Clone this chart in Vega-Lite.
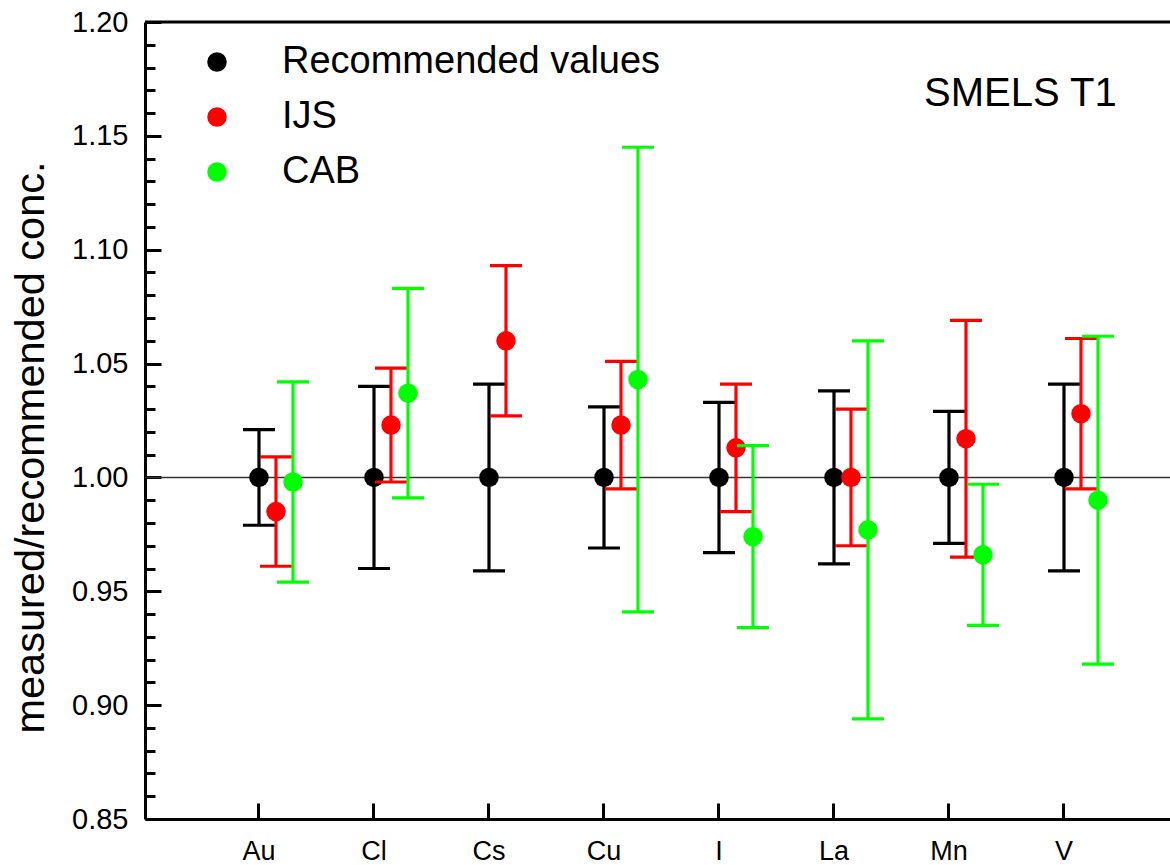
{
  "$schema": "https://vega.github.io/schema/vega-lite/v6.json",
  "width": 1025,
  "height": 797,
  "autosize": {"type": "none"},
  "padding": {"left": 145, "top": 22, "right": 0, "bottom": 46},
  "background": "white",
  "config": {
    "view": {"stroke": null},
    "font": "Liberation Sans",
    "axis": {"labelFont": "Liberation Sans", "titleFont": "Liberation Sans", "labelColor": "black", "titleColor": "black", "domainColor": "black", "tickColor": "black", "grid": false},
    "axisY": {"labelOverlap": false, "tickCount": 50}
  },
  "datasets": {
    "pts": [
      {"element": "Au", "series": "Recommended values", "value": 1.000, "lo": 0.979, "hi": 1.021},
      {"element": "Au", "series": "IJS", "value": 0.985, "lo": 0.961, "hi": 1.009},
      {"element": "Au", "series": "CAB", "value": 0.998, "lo": 0.954, "hi": 1.042},
      {"element": "Cl", "series": "Recommended values", "value": 1.000, "lo": 0.960, "hi": 1.040},
      {"element": "Cl", "series": "IJS", "value": 1.023, "lo": 0.998, "hi": 1.048},
      {"element": "Cl", "series": "CAB", "value": 1.037, "lo": 0.991, "hi": 1.083},
      {"element": "Cs", "series": "Recommended values", "value": 1.000, "lo": 0.959, "hi": 1.041},
      {"element": "Cs", "series": "IJS", "value": 1.060, "lo": 1.027, "hi": 1.093},
      {"element": "Cu", "series": "Recommended values", "value": 1.000, "lo": 0.969, "hi": 1.031},
      {"element": "Cu", "series": "IJS", "value": 1.023, "lo": 0.995, "hi": 1.051},
      {"element": "Cu", "series": "CAB", "value": 1.043, "lo": 0.941, "hi": 1.145},
      {"element": "I", "series": "Recommended values", "value": 1.000, "lo": 0.967, "hi": 1.033},
      {"element": "I", "series": "IJS", "value": 1.013, "lo": 0.985, "hi": 1.041},
      {"element": "I", "series": "CAB", "value": 0.974, "lo": 0.934, "hi": 1.014},
      {"element": "La", "series": "Recommended values", "value": 1.000, "lo": 0.962, "hi": 1.038},
      {"element": "La", "series": "IJS", "value": 1.000, "lo": 0.970, "hi": 1.030},
      {"element": "La", "series": "CAB", "value": 0.977, "lo": 0.894, "hi": 1.060},
      {"element": "Mn", "series": "Recommended values", "value": 1.000, "lo": 0.971, "hi": 1.029},
      {"element": "Mn", "series": "IJS", "value": 1.017, "lo": 0.965, "hi": 1.069},
      {"element": "Mn", "series": "CAB", "value": 0.966, "lo": 0.935, "hi": 0.997},
      {"element": "V", "series": "Recommended values", "value": 1.000, "lo": 0.959, "hi": 1.041},
      {"element": "V", "series": "IJS", "value": 1.028, "lo": 0.995, "hi": 1.061},
      {"element": "V", "series": "CAB", "value": 0.990, "lo": 0.918, "hi": 1.062}
    ]
  },
  "layer": [
    {
      "data": {"values": [{"ref": 1.0}]},
      "mark": {"type": "rule", "color": "#333333", "strokeWidth": 1.5},
      "encoding": {
        "y": {
          "field": "ref", "type": "quantitative", "title": "measured/recommended conc.",
          "scale": {"domain": [0.85, 1.2], "nice": false, "zero": false},
          "axis": {
            "values": [0.85, 0.86, 0.87, 0.88, 0.89, 0.9, 0.91, 0.92, 0.93, 0.94, 0.95, 0.96, 0.97, 0.98, 0.99, 1.0, 1.01, 1.02, 1.03, 1.04, 1.05, 1.06, 1.07, 1.08, 1.09, 1.1, 1.11, 1.12, 1.13, 1.14, 1.15, 1.16, 1.17, 1.18, 1.19, 1.2],
            "tickCount": 50,
            "labelExpr": "abs(datum.value*20 - round(datum.value*20)) < 0.01 ? format(datum.value, '.2f') : ''",
            "labelOverlap": false,
            "tickSize": {"condition": {"test": "abs(datum.value*20 - round(datum.value*20)) < 0.01", "value": -16}, "value": -10},
            "tickWidth": 3,
            "domainWidth": 3,
            "labelFontSize": 29,
            "labelPadding": 33,
            "titleFontSize": 41.5,
            "titleFontWeight": "normal",
            "titleX": -102,
            "titleY": 425,
            "titleBaseline": "alphabetic",
            "titleAlign": "center",
            "titleAngle": 270
          }
        }
      }
    },
    {
      "data": {"name": "pts"},
      "encoding": {
        "x": {
          "field": "element", "type": "nominal", "title": null,
          "sort": ["Au", "Cl", "Cs", "Cu", "I", "La", "Mn", "V"],
          "scale": {"type": "band", "paddingInner": 0, "paddingOuter": 0.4565, "align": 0.538},
          "axis": {"domainWidth": 3, "tickWidth": 3, "tickSize": -16, "labelFontSize": 27, "labelPadding": 35, "labelAngle": 0}
        },
        "xOffset": {
          "field": "series", "type": "nominal",
          "scale": {"type": "point", "padding": 0, "domain": ["Recommended values", "IJS", "CAB"], "range": [57.5, 91.5]}
        },
        "color": {
          "field": "series", "type": "nominal", "title": null,
          "scale": {"domain": ["Recommended values", "IJS", "CAB"], "range": ["#000000", "#ff0000", "#00ff00"]},
          "legend": {
            "orient": "none", "legendX": 53, "legendY": 21,
            "labelFontSize": 38, "labelFont": "Liberation Sans", "labelColor": "black", "labelLimit": 0,
            "symbolSize": 380, "symbolType": "circle", "symbolStrokeWidth": 0, "symbolOpacity": 1,
            "rowPadding": 17, "labelOffset": 46, "padding": 0
          }
        }
      },
      "layer": [
        {
          "transform": [{"filter": "datum.series === 'Recommended values'"}],
          "layer": [
            {"mark": {"type": "rule", "strokeWidth": 3.2, "opacity": 1}, "encoding": {"y": {"field": "lo", "type": "quantitative", "title": "measured/recommended conc."}, "y2": {"field": "hi"}}},
            {"mark": {"type": "tick", "orient": "horizontal", "size": 32, "thickness": 3.2, "opacity": 1}, "encoding": {"y": {"field": "lo", "type": "quantitative", "title": "measured/recommended conc."}}},
            {"mark": {"type": "tick", "orient": "horizontal", "size": 32, "thickness": 3.2, "opacity": 1}, "encoding": {"y": {"field": "hi", "type": "quantitative", "title": "measured/recommended conc."}}},
            {"mark": {"type": "point", "filled": true, "size": 380, "opacity": 1}, "encoding": {"y": {"field": "value", "type": "quantitative", "title": "measured/recommended conc."}}}
          ]
        },
        {
          "transform": [{"filter": "datum.series === 'IJS'"}],
          "layer": [
            {"mark": {"type": "rule", "strokeWidth": 3.2, "opacity": 1}, "encoding": {"y": {"field": "lo", "type": "quantitative", "title": "measured/recommended conc."}, "y2": {"field": "hi"}}},
            {"mark": {"type": "tick", "orient": "horizontal", "size": 32, "thickness": 3.2, "opacity": 1}, "encoding": {"y": {"field": "lo", "type": "quantitative", "title": "measured/recommended conc."}}},
            {"mark": {"type": "tick", "orient": "horizontal", "size": 32, "thickness": 3.2, "opacity": 1}, "encoding": {"y": {"field": "hi", "type": "quantitative", "title": "measured/recommended conc."}}},
            {"mark": {"type": "point", "filled": true, "size": 380, "opacity": 1}, "encoding": {"y": {"field": "value", "type": "quantitative", "title": "measured/recommended conc."}}}
          ]
        },
        {
          "transform": [{"filter": "datum.series === 'CAB'"}],
          "layer": [
            {"mark": {"type": "rule", "strokeWidth": 3.2, "opacity": 1}, "encoding": {"y": {"field": "lo", "type": "quantitative", "title": "measured/recommended conc."}, "y2": {"field": "hi"}}},
            {"mark": {"type": "tick", "orient": "horizontal", "size": 32, "thickness": 3.2, "opacity": 1}, "encoding": {"y": {"field": "lo", "type": "quantitative", "title": "measured/recommended conc."}}},
            {"mark": {"type": "tick", "orient": "horizontal", "size": 32, "thickness": 3.2, "opacity": 1}, "encoding": {"y": {"field": "hi", "type": "quantitative", "title": "measured/recommended conc."}}},
            {"mark": {"type": "point", "filled": true, "size": 380, "opacity": 1}, "encoding": {"y": {"field": "value", "type": "quantitative", "title": "measured/recommended conc."}}}
          ]
        }
      ]
    },
    {
      "data": {"values": [{"top": 1.2}]},
      "mark": {"type": "rule", "color": "black", "strokeWidth": 3},
      "encoding": {"y": {"field": "top", "type": "quantitative", "title": "measured/recommended conc."}}
    },
    {
      "data": {"values": [{"label": "SMELS T1", "element": "Mn", "ypos": 1.163}]},
      "mark": {"type": "text", "fontSize": 40, "align": "left", "baseline": "alphabetic", "font": "Liberation Sans", "color": "black", "dx": -25},
      "encoding": {
        "x": {"field": "element", "type": "nominal", "title": null},
        "y": {"field": "ypos", "type": "quantitative", "title": "measured/recommended conc."},
        "text": {"field": "label"}
      }
    }
  ]
}
